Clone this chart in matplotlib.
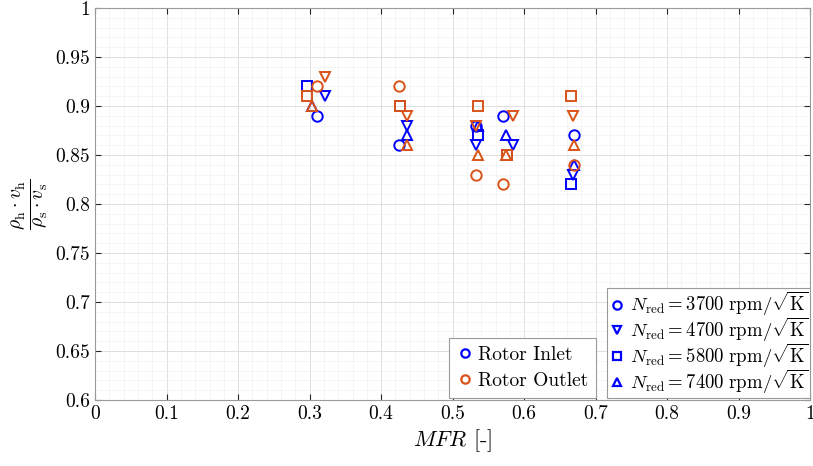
import numpy as np
import matplotlib
matplotlib.use("Agg")
import matplotlib.pyplot as plt
from matplotlib.lines import Line2D

plt.rcParams['font.family'] = 'serif'
plt.rcParams['font.serif'] = ['cmr10']
plt.rcParams['mathtext.fontset'] = 'cm'
plt.rcParams['axes.formatter.use_mathtext'] = True

# mass flow rate per speed line and density-velocity ratio at rotor inlet / outlet
speeds = [3700, 4700, 5800, 7400]
markers = ['o', 'v', 's', '^']

mfr = {
    3700: [0.311, 0.425, 0.533, 0.570, 0.670],
    4700: [0.322, 0.436, 0.533, 0.584, 0.668],
    5800: [0.297, 0.427, 0.536, 0.576, 0.665],
    7400: [0.303, 0.436, 0.535, 0.575, 0.670],
}
ratio_inlet = {
    3700: [0.89, 0.86, 0.88, 0.89, 0.87],
    4700: [0.91, 0.88, 0.86, 0.86, 0.83],
    5800: [0.92, 0.90, 0.87, 0.85, 0.82],
    7400: [0.90, 0.87, 0.88, 0.87, 0.84],
}
ratio_outlet = {
    3700: [0.92, 0.92, 0.83, 0.82, 0.84],
    4700: [0.93, 0.89, 0.88, 0.89, 0.89],
    5800: [0.91, 0.90, 0.90, 0.85, 0.91],
    7400: [0.90, 0.86, 0.85, 0.85, 0.86],
}

c_in = (0, 0, 1)
c_out = (0.85, 0.325, 0.098)

fig = plt.figure(figsize=(8.13, 4.66), dpi=100)
ax = fig.add_axes([0.117, 0.1416, 0.8795, 0.8414])

for n, m in zip(speeds, markers):
    ax.plot(mfr[n], ratio_inlet[n], linestyle='none', marker=m, ms=7.5,
            mfc='none', mec=c_in, mew=1.4)
for n, m in zip(speeds, markers):
    ax.plot(mfr[n], ratio_outlet[n], linestyle='none', marker=m, ms=7.5,
            mfc='none', mec=c_out, mew=1.4)

ax.set_xlim(0, 1)
ax.set_ylim(0.6, 1)
ax.set_xticks(np.arange(0, 1.01, 0.1))
ax.set_yticks(np.arange(0.6, 1.001, 0.05))
ax.set_xticklabels(['0', '0.1', '0.2', '0.3', '0.4', '0.5', '0.6', '0.7', '0.8', '0.9', '1'])
ax.set_yticklabels(['0.6', '0.65', '0.7', '0.75', '0.8', '0.85', '0.9', '0.95', '1'])
ax.set_xticks(np.arange(0, 1.001, 0.02), minor=True)
ax.set_yticks(np.arange(0.6, 1.001, 0.01), minor=True)
ax.tick_params(which='both', direction='in', top=True, right=True, labelsize=14,
               color='#262626')
ax.tick_params(which='major', length=4)
ax.tick_params(which='minor', length=0)
ax.grid(which='major', color='#dedede', lw=0.7)
ax.grid(which='minor', color='#f2f2f2', lw=0.5)
ax.set_axisbelow(True)
for sp in ax.spines.values():
    sp.set_color('#9a9a9a')
    sp.set_linewidth(0.8)

ax.set_xlabel(r'$MFR$ [-]', fontsize=16, labelpad=3)
ax.set_ylabel(r'$\frac{\rho_\mathrm{h}\cdot v_\mathrm{h}}{\rho_\mathrm{s}\cdot v_\mathrm{s}}$',
              fontsize=20, labelpad=4)

loc_handles = [Line2D([], [], ls='none', marker='o', ms=6, mfc='none', mec=c_in, mew=1.6),
               Line2D([], [], ls='none', marker='o', ms=6, mfc='none', mec=c_out, mew=1.6)]
leg1 = ax.legend(loc_handles, ['Rotor Inlet', 'Rotor Outlet'], loc='lower right',
                 bbox_to_anchor=(0.7007, 0.005), borderaxespad=0, fontsize=14,
                 handlelength=0.8, handletextpad=0.3, borderpad=0.4, labelspacing=0.45,
                 fancybox=False, edgecolor='#9a9a9a', framealpha=1)
leg1.get_frame().set_linewidth(0.8)
ax.add_artist(leg1)

spd_handles = [Line2D([], [], ls='none', marker=m, ms=6, mfc='none', mec=c_in, mew=1.6)
               for m in markers]
spd_labels = [r'$N_\mathrm{red} = ' + f'{n}' + r'\ \mathrm{rpm}/\sqrt{\mathrm{K}}$'
              for n in speeds]
leg2 = ax.legend(spd_handles, spd_labels, loc='lower right', bbox_to_anchor=(1.0, 0.005),
                 borderaxespad=0, fontsize=13.5, handlelength=0.8, handletextpad=0.3,
                 borderpad=0.12, labelspacing=-0.12, fancybox=False, edgecolor='#9a9a9a',
                 framealpha=1)
leg2.get_frame().set_linewidth(0.8)

fig.savefig('out.png', dpi=100)
